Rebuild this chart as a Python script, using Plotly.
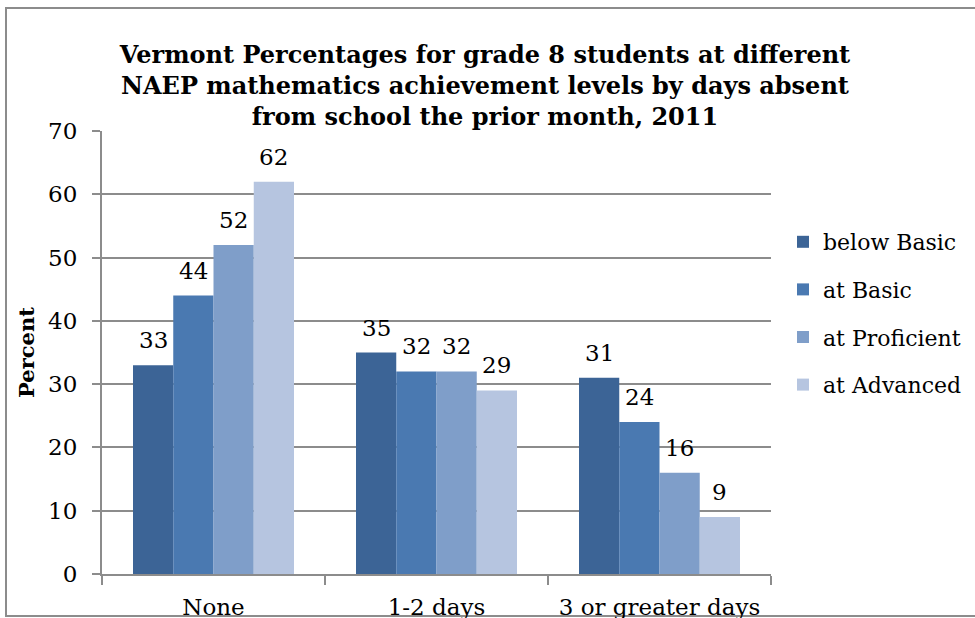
import plotly.graph_objects as go

# Days absent categories and achievement-level series (percent of students)
categories = ["None", "1-2 days", "3 or greater days"]
series_names = ["below Basic", "at Basic", "at Proficient", "at Advanced"]
below_basic = [33, 35, 31]
at_basic = [44, 32, 24]
at_proficient = [52, 32, 16]
at_advanced = [62, 29, 9]
series_values = [below_basic, at_basic, at_proficient, at_advanced]
colors = ["#3C6496", "#4A79B1", "#7F9EC9", "#B6C5E0"]
y_ticks = [0, 10, 20, 30, 40, 50, 60, 70]

W, H = 975, 618
L, R, T, B = 102, 204, 131, 44
plot_w = W - L - R
plot_h = H - T - B
BARGAP = 0.278
SERIF = "DejaVu Serif"
GRAY = "#8C8C8C"
FS = 23

fig = go.Figure()
for i, (name, vals) in enumerate(zip(series_names, series_values)):
    fig.add_trace(go.Bar(
        x=categories, y=vals, name=name,
        marker=dict(color=colors[i], line=dict(width=0)),
        legendgroup=name,
    ))

# value labels above each bar
n = len(series_names)
group_w = 1 - BARGAP
annotations = []
for i, vals in enumerate(series_values):
    offset = -group_w / 2 + (i + 0.5) * group_w / n
    for j, v in enumerate(vals):
        annotations.append(dict(
            x=j + offset, y=v, xref="x", yref="y",
            text=str(v), showarrow=False,
            yanchor="bottom", xanchor="center", yshift=10,
            font=dict(family=SERIF, size=FS, color="#000000"),
        ))


def px_x(px):
    return (px - L) / plot_w


def px_y(py):
    return (H - B - py) / plot_h


fig.update_layout(
    width=W, height=H,
    margin=dict(l=L, r=R, t=T, b=B, autoexpand=False),
    paper_bgcolor="white", plot_bgcolor="white",
    barmode="group", bargap=BARGAP, bargroupgap=0,
    font=dict(family=SERIF, size=FS, color="#000000"),
    title=dict(
        text="Vermont Percentages for grade 8 students at different<br>"
             "NAEP mathematics achievement levels by days absent<br>"
             "from school the prior month, 2011",
        x=485 / W, xanchor="center", xref="container",
        y=1 - 63 / H, yanchor="top", yref="container",
        font=dict(family=SERIF, size=24, color="#000000", weight="bold"),
    ),
    xaxis=dict(
        type="category", tickson="boundaries", automargin=False,
        ticks="outside", ticklen=9, tickcolor=GRAY, tickwidth=2,
        showline=True, linecolor=GRAY, linewidth=2,
        showgrid=False, zeroline=False,
        tickfont=dict(family=SERIF, size=FS),
        ticklabelstandoff=11,
    ),
    yaxis=dict(
        range=[0, 70], tickvals=y_ticks, automargin=False,
        ticks="outside", ticklen=8, tickcolor=GRAY, tickwidth=2,
        showline=True, linecolor=GRAY, linewidth=2,
        showgrid=True, gridcolor=GRAY, gridwidth=2,
        zeroline=False,
        tickfont=dict(family=SERIF, size=FS),
        ticklabelstandoff=10,
        title=dict(text="<b>Percent</b>", standoff=8,
                   font=dict(family=SERIF, size=21)),
    ),
    legend=dict(
        x=px_x(783), xanchor="left", y=px_y(313.5), yanchor="middle",
        font=dict(family=SERIF, size=22),
        tracegroupgap=16, traceorder="grouped",
        bgcolor="rgba(0,0,0,0)",
    ),
    annotations=annotations,
    shapes=[dict(
        type="rect", xref="paper", yref="paper",
        x0=px_x(6), x1=px_x(995), y0=px_y(616), y1=px_y(8),
        line=dict(color=GRAY, width=2), fillcolor="rgba(0,0,0,0)",
        layer="below",
    )],
)

fig.write_html("out.html")
